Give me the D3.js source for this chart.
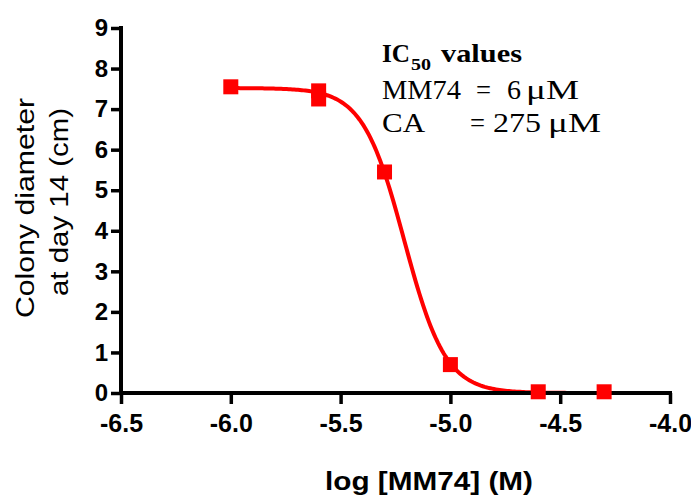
<!DOCTYPE html>
<html>
<head>
<meta charset="utf-8">
<script src="https://cdn.jsdelivr.net/npm/d3@7"></script>
<style>
  html, body { margin: 0; padding: 0; background: #fff; }
  svg { display: block; }
</style>
</head>
<body>
<div id="chart"></div>
<script>
// log concentration of MM74 (M) and measured colony diameter (cm)
const logDose = [-6.0, -5.6, -5.6, -5.3, -5.0, -4.6, -4.3]
const diameter = [7.55, 7.45, 7.25, 5.45, 0.7, 0.03, 0.03]

// fitted dose-response curve (top, bottom, logIC50, hill slope)
const fitTop = 7.52
const fitBottom = 0
const fitLogIC50 = -5.21
const fitHill = -4.6
const fitRange = [-6.0, -4.3]

const xTicks = [-6.5, -6.0, -5.5, -5.0, -4.5, -4.0]
const yTicks = [0, 1, 2, 3, 4, 5, 6, 7, 8, 9]

const width = 691
const height = 504
const RED = "#ff0000"
const SANS = "Liberation Sans, Arial, sans-serif"
const SERIF = "Liberation Serif, Times New Roman, serif"

const x = d3.scaleLinear().domain([-6.5, -4.0]).range([121, 670])
const y = d3.scaleLinear().domain([0, 9]).range([393, 28])

const svg = d3.select("#chart")
  .append("svg")
  .attr("width", width)
  .attr("height", height)
  .attr("viewBox", [0, 0, width, height])

const curvePts = d3.range(0, 201).map(i => {
  const lx = fitRange[0] + (fitRange[1] - fitRange[0]) * i / 200
  return [lx, fitBottom + (fitTop - fitBottom) / (1 + Math.pow(10, (fitLogIC50 - lx) * fitHill))]
})

// Curve (under the axes)
svg.append("path")
  .datum(curvePts)
  .attr("fill", "none")
  .attr("stroke", RED)
  .attr("stroke-width", 4)
  .attr("d", d3.line().x(d => x(d[0])).y(d => y(d[1])))

// Axes
const xAxis = svg.append("g")
  .attr("transform", `translate(0,${y(0)})`)
  .call(d3.axisBottom(x).tickValues(xTicks).tickFormat(d => d.toFixed(1)).tickSize(11))

const yAxis = svg.append("g")
  .attr("transform", `translate(${x(-6.5)},0)`)
  .call(d3.axisLeft(y).tickValues(yTicks).tickFormat(d => String(d)).tickSize(10).tickPadding(3))

;[xAxis, yAxis].forEach(a => {
  a.select(".domain").attr("stroke", "#000").attr("stroke-width", 4).attr("stroke-linecap", "square")
  a.selectAll(".tick line").attr("stroke", "#000").attr("stroke-width", 3.5)
  a.selectAll(".tick text")
    .attr("fill", "#000")
    .attr("font-family", SANS)
    .attr("font-weight", "bold")
    .attr("font-size", "24px")
})
xAxis.select(".domain").attr("d", `M${x(-6.5)},0H${x(-4.0)}`)
yAxis.select(".domain").attr("d", `M0,${y(0)}V${y(9)}`)
xAxis.selectAll(".tick text")
  .attr("font-size", "25px")
  .attr("y", 39)
  .attr("dy", 0)

// Markers
svg.append("g")
  .selectAll("rect")
  .data(logDose.map((d, i) => [d, diameter[i]]))
  .join("rect")
  .attr("x", d => x(d[0]) - 7.5)
  .attr("y", d => y(d[1]) - 7.5)
  .attr("width", 15)
  .attr("height", 15)
  .attr("fill", RED)

// Axis titles
svg.append("text")
  .attr("x", 429).attr("y", 490)
  .attr("text-anchor", "middle")
  .attr("font-family", SANS)
  .attr("font-weight", "bold")
  .attr("font-size", "25px")
  .attr("textLength", 208)
  .attr("lengthAdjust", "spacingAndGlyphs")
  .text("log [MM74] (M)")

const yTitle = svg.append("g")
  .attr("transform", "translate(0,208) rotate(-90)")
  .attr("font-family", SANS)
  .attr("font-size", "26px")
  .attr("text-anchor", "middle")
yTitle.append("text").attr("x", 0).attr("y", 34)
  .attr("textLength", 220).attr("lengthAdjust", "spacingAndGlyphs")
  .text("Colony diameter")
yTitle.append("text").attr("x", 6).attr("y", 68)
  .attr("textLength", 188).attr("lengthAdjust", "spacingAndGlyphs")
  .text("at day 14 (cm)")

// IC50 annotation
const note = svg.append("g")
  .attr("font-family", SERIF)
  .attr("fill", "#000")

const piece = (txt, px, py, len, size, bold) => note.append("text")
  .attr("x", px).attr("y", py)
  .attr("font-size", size + "px")
  .attr("font-weight", bold ? "bold" : "normal")
  .attr("textLength", len)
  .attr("lengthAdjust", "spacingAndGlyphs")
  .text(txt)

piece("IC", 382, 62, 28, 26, true)
piece("50", 411, 70, 20, 17, true)
piece("values", 441, 62, 81, 26, true)

const rows = [
  { name: "MM74", nameLen: 79, eqX: 476, val: "6", valX: 507, valLen: 14, unitX: 526, unitLen: 53, y: 99 },
  { name: "CA", nameLen: 43, eqX: 470, val: "275", valX: 493, valLen: 48, unitX: 548, unitLen: 53, y: 132 }
]
rows.forEach(r => {
  piece(r.name, 382, r.y, r.nameLen, 28, false)
  piece("=", r.eqX, r.y, 15, 28, false)
  piece(r.val, r.valX, r.y, r.valLen, 28, false)
  piece("\u03bcM", r.unitX, r.y, r.unitLen, 28, false)
})
</script>
</body>
</html>
